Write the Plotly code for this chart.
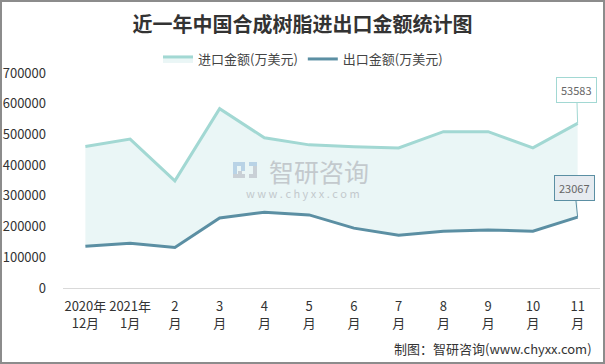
import plotly.graph_objects as go

categories = ["2020年<br>12月", "2021年<br>1月", "2<br>月", "3<br>月", "4<br>月", "5<br>月",
              "6<br>月", "7<br>月", "8<br>月", "9<br>月", "10<br>月", "11<br>月"]
import_values = [461000, 485000, 349000, 584000, 489000, 466000, 460000, 456000, 509000, 509000, 456000, 535830]
export_values = [136000, 146000, 132000, 228000, 247000, 238000, 195000, 172000, 185000, 189000, 185000, 230670]
y_ticks = [0, 100000, 200000, 300000, 400000, 500000, 600000, 700000]

IMP_C = "#a2d8d3"
EXP_C = "#5b8fa3"
FONT = "Noto Sans CJK SC"

W, H = 605, 364
ML, MR, MT, MB = 63, 5, 73, 76
PW, PH = W - ML - MR, H - MT - MB


def px(x):
    return (x - ML) / PW


def py(y):
    return (H - MB - y) / PH


fig = go.Figure()
fig.add_trace(go.Scatter(x=categories, y=export_values, mode="lines", name="出口金额(万美元)",
                         line=dict(color=EXP_C, width=3), hoverinfo="skip"))
fig.add_trace(go.Scatter(x=categories, y=import_values, mode="lines", name="进口金额(万美元)",
                         line=dict(color=IMP_C, width=3), fill="tonexty", fillcolor="#eaf6f6",
                         hoverinfo="skip"))

# callouts
fig.add_annotation(x=categories[-1], y=import_values[-1], text="53583", showarrow=True,
                   arrowhead=0, arrowwidth=1, arrowcolor=IMP_C, ax=-1, ay=-33,
                   bgcolor="white", bordercolor=IMP_C, borderwidth=1, borderpad=4,
                   font=dict(family=FONT, size=11, color="#666666"))
fig.add_annotation(x=categories[-1], y=export_values[-1], text="23067", showarrow=True,
                   arrowhead=0, arrowwidth=1, arrowcolor=EXP_C, ax=-3, ay=-29,
                   bgcolor="#e6ebf0", bordercolor=EXP_C, borderwidth=1, borderpad=4,
                   font=dict(family=FONT, size=11, color="#666666"))

# watermark
fig.add_annotation(xref="paper", yref="paper", x=px(319), y=py(171), yanchor="middle",
                   text="智研咨询", showarrow=False,
                   font=dict(family=FONT, size=25, color="#c3c9cd"))
fig.add_annotation(xref="paper", yref="paper", x=px(303), y=py(193), yanchor="middle",
                   text="w w w . c h y x x . c o m", showarrow=False,
                   font=dict(family=FONT, size=11, color="#c3c9cd"))
for (x0, y0, x1, y1, c) in [(233, 162, 245, 166, "#b9d3e6"), (233, 162, 237, 178, "#b9d3e6"),
                            (233, 174, 245, 178, "#c9d0d6"), (241, 166, 245, 171, "#b9d3e6"),
                            (238, 171, 242, 175, "#c9d0d6"), (249, 162, 257, 166, "#b9d3e6"),
                            (253, 166, 257, 178, "#c9d0d6"), (249, 174, 257, 178, "#c9d0d6")]:
    fig.add_shape(type="rect", xref="paper", yref="paper", x0=px(x0), x1=px(x1),
                  y0=py(y1), y1=py(y0), line=dict(width=0), fillcolor=c, layer="above")

# source
fig.add_annotation(xref="paper", yref="paper", x=px(594), y=py(348), yanchor="middle",
                   xanchor="right", text="制图：智研咨询(www.chyxx.com)", showarrow=False,
                   font=dict(family=FONT, size=13, color="#333333"))

# outer border
fig.add_shape(type="rect", xref="paper", yref="paper",
              x0=px(1), x1=px(W - 1), y0=py(H - 1), y1=py(1),
              line=dict(color="#8c8c8c", width=2), fillcolor="rgba(0,0,0,0)", layer="above")

fig.update_layout(
    width=W, height=H,
    margin=dict(l=ML, r=MR, t=MT, b=MB, autoexpand=False),
    paper_bgcolor="white", plot_bgcolor="white",
    title=dict(text="<b>近一年中国合成树脂进出口金额统计图</b>", x=0.5, xanchor="center",
               y=1 - 25 / H, yanchor="middle",
               font=dict(family=FONT, size=20, color="#333333")),
    legend=dict(orientation="h", x=px(303), xanchor="center",
                y=py(59), yanchor="middle", traceorder="reversed",
                font=dict(family=FONT, size=13, color="#444444"), itemwidth=30,
                bgcolor="rgba(0,0,0,0)"),
    showlegend=True,
    font=dict(family=FONT, color="#333333"),
)
fig.update_xaxes(type="category", range=[-0.5, 11.5], showgrid=False, zeroline=False,
                 showline=True, linecolor="#d9d9d9", linewidth=1, ticks="", automargin=False,
                 tickfont=dict(family=FONT, size=13, color="#333333"), ticklabelstandoff=6)
fig.update_yaxes(range=[0, 700000], tickvals=y_ticks, ticktext=[str(v) for v in y_ticks],
                 showgrid=False, zeroline=False, showline=False, ticks="", automargin=False,
                 tickfont=dict(family=FONT, size=13, color="#333333"), ticklabelstandoff=16)

fig.write_html("out.html", config={"displayModeBar": False},
               post_script="document.body.style.margin='0';document.body.style.overflow='hidden';")
